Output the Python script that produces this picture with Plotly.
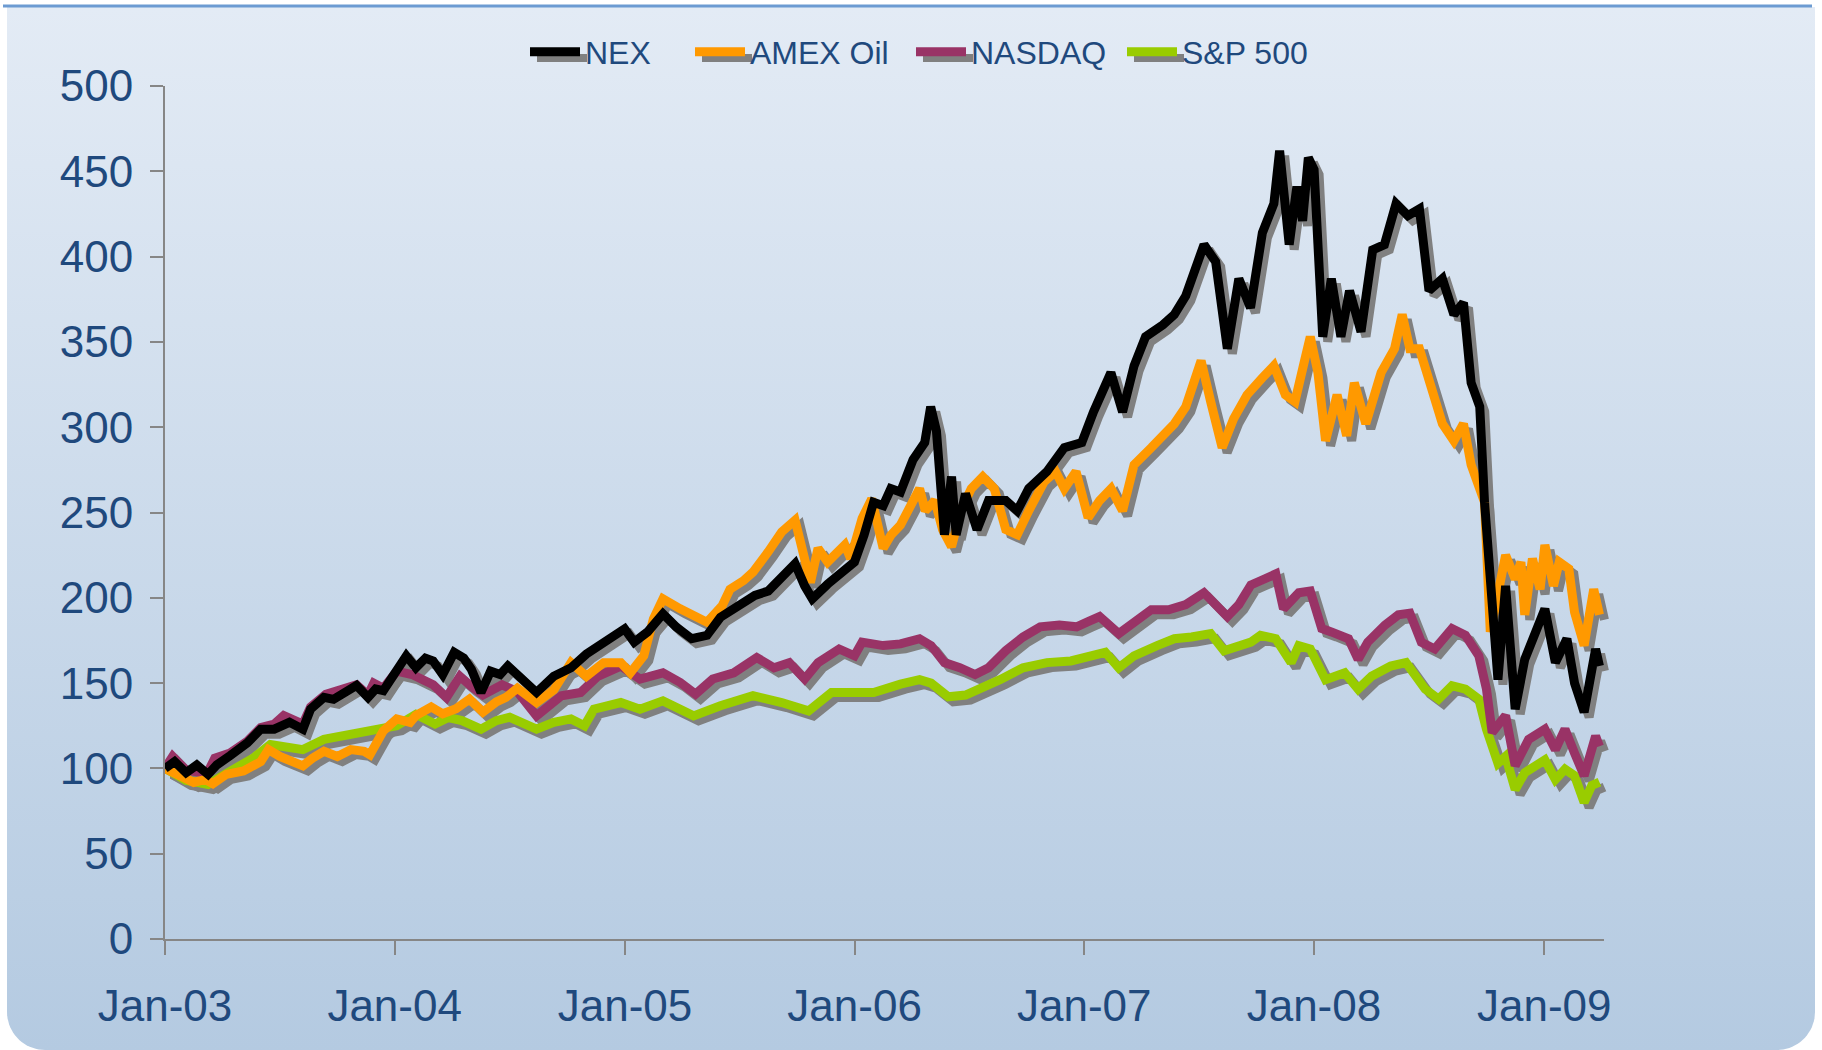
import numpy as np
import pandas as pd
import plotly.graph_objects as go

# ---------------- data ----------------
# x positions are months elapsed since 1 Jan 2003, y values are index levels (Jan-03 = 100)
nex_months = [0, 0.5, 1.1, 1.66, 2.25, 2.7, 3.4, 4.3, 5.0, 5.7,
              6.5, 7.2, 7.6, 8.3, 8.8, 9.3, 10.0, 10.6, 11.0, 11.4,
              12.1, 12.6, 13.1, 13.6, 14.0, 14.5, 15.1, 15.6, 16.0, 16.5,
              17.0, 17.5, 17.9, 18.6, 19.4, 20.3, 21.2, 22.0, 23.1, 24.0,
              24.5, 25.2, 26.0, 26.7, 27.5, 28.3, 29.0, 29.9, 30.8, 31.5,
              32.2, 32.9, 33.4, 33.8, 34.6, 35.3, 36.0, 36.5, 37.0, 37.5,
              37.9, 38.4, 39.06, 39.67, 39.98, 40.28, 40.7, 41.07, 41.31, 41.8,
              42.4, 43.0, 43.9, 44.5, 45.1, 46.05, 46.96, 47.87, 48.48, 49.39,
              50.0, 50.6, 51.2, 52.1, 52.7, 53.3, 54.25, 54.86, 55.47, 56.07,
              56.68, 57.3, 57.9, 58.2, 58.7, 59.1, 59.4, 59.7, 60.0, 60.45,
              60.9, 61.4, 61.85, 62.45, 63.06, 63.67, 64.28, 64.9, 65.5, 66.0,
              66.7, 67.3, 67.8, 68.2, 68.65, 68.9, 69.26, 69.6, 70.0, 70.5,
              71.0, 71.5, 72.05, 72.6, 73.2, 73.6, 74.1, 74.7, 74.9]
nex_values = [100, 104, 97.5, 102, 96.5, 102, 107.5, 115, 123, 123,
              127, 123, 134.7, 141.6, 140.5, 144.5, 148.6, 141.6, 146.6, 145.6,
              158, 166, 159, 164.6, 163, 155, 168, 164.6, 158, 144.5,
              157, 155, 160, 152, 144.5, 154, 159, 167, 175, 181.8,
              174, 180, 190.6, 182.8, 176, 178, 188.6, 194.5, 201.4, 204,
              213, 220, 207, 199.4, 208, 215, 221, 236.7, 256, 254,
              264, 262, 281, 291, 312, 298, 237, 271, 237, 261,
              240, 257, 257, 251, 264, 274, 288, 291, 309, 332,
              309, 336, 353, 360, 366, 377, 407, 397, 346, 387,
              370, 414, 431, 462, 407, 441, 421, 458, 451, 353,
              387, 353, 380, 356, 404, 407, 431, 424, 428, 380,
              387, 366, 373, 326, 312, 256, 193.5, 152, 207, 134.7,
              164, 178, 193.5, 162, 176, 150, 133, 170, 160]

amex_months = [0, 1.0, 1.5, 2.1, 2.5, 3.2, 4.1, 5.0, 5.4, 6.0,
               6.7, 7.2, 7.7, 8.3, 9.0, 9.7, 10.4, 10.7, 11.4, 12.1,
               12.8, 13.1, 13.9, 14.5, 15.2, 15.9, 16.6, 17.3, 17.8, 18.4,
               19.4, 20.3, 21.2, 22.0, 22.9, 23.8, 24.3, 25.0, 25.5, 26.0,
               26.9, 27.6, 28.3, 29.1, 29.5, 30.2, 30.7, 31.5, 32.2, 32.9,
               33.2, 33.7, 34.1, 34.6, 35.5, 35.8, 36.4, 36.9, 37.5, 37.9,
               38.4, 39.4, 39.7, 40.2, 40.6, 41.07, 41.55, 42.1, 42.7, 43.3,
               43.9, 44.5, 45.1, 45.9, 46.5, 46.96, 47.57, 48.2, 48.8, 49.4,
               50.0, 50.6, 51.5, 52.1, 52.7, 53.3, 54.1, 54.6, 55.2, 55.8,
               56.5, 57.3, 57.9, 58.5, 59.0, 59.5, 59.8, 60.2, 60.6, 61.2,
               61.7, 62.1, 62.7, 63.5, 64.2, 64.6, 65.0, 65.5, 66.0, 66.7,
               67.3, 67.8, 68.2, 68.65, 68.9, 69.2, 70.0, 70.5, 70.8, 71.0,
               71.4, 71.8, 72.05, 72.5, 72.8, 73.3, 73.6, 74.1, 74.6, 74.9]
amex_values = [100, 94.5, 91.8, 93.5, 91, 96.5, 98.5, 104, 111, 107,
               104, 101.5, 106, 110, 107, 111, 110, 108, 122, 129,
               127, 131, 136, 132, 135, 140.6, 133, 139, 141.6, 147,
               138.6, 146, 162, 154, 162, 162, 156, 166, 187.6, 199.4,
               193.5, 189.6, 185.7, 195.5, 205, 210, 215, 227, 238.6, 245.5,
               233, 209, 229, 221, 231, 223, 246.5, 258, 229, 236.7,
               242.6, 264, 251, 257, 240, 230, 251, 264, 271, 264,
               240, 237, 251, 268, 274, 264, 274, 247, 257, 264,
               251, 278, 288, 295, 302, 312, 339, 315, 288, 305,
               319, 329, 336, 319, 315, 339, 353, 332, 292, 319,
               295, 326, 302, 332, 346, 366, 346, 346, 326, 302,
               292, 302, 278, 264, 256, 180, 225, 211, 221, 190,
               223, 205, 231, 207, 221, 217, 191.6, 172, 205, 190]

nasdaq_months = [0, 0.4, 1.1, 2.2, 2.6, 3.4, 4.3, 5.0, 5.7, 6.2,
                 7.2, 7.6, 8.4, 9.3, 10.0, 10.6, 10.9, 11.4, 12.1, 12.9,
                 14.0, 14.7, 15.4, 16.0, 16.6, 17.6, 18.4, 19.4, 20.7, 21.7,
                 22.6, 23.8, 24.8, 26.0, 26.9, 27.7, 28.6, 29.7, 30.9, 31.8,
                 32.6, 33.4, 34.1, 35.2, 36.0, 36.4, 37.5, 38.4, 39.4, 40.0,
                 40.7, 41.5, 42.3, 43.0, 43.9, 44.8, 45.7, 46.7, 47.6, 48.2,
                 48.8, 49.8, 50.6, 51.5, 52.4, 53.3, 54.25, 54.86, 55.47, 56.07,
                 56.7, 57.2, 58.0, 58.4, 59.2, 59.8, 60.4, 60.9, 61.8, 62.3,
                 62.8, 63.7, 64.4, 65.0, 65.6, 66.3, 67.2, 67.9, 68.6, 69.0,
                 69.3, 70.0, 70.5, 71.2, 72.05, 72.6, 73.1, 73.6, 74.1, 74.7,
                 74.9]
nasdaq_values = [100, 107, 99, 97, 106, 109, 116, 124, 126, 131,
                 126, 136, 143.5, 146, 149, 143, 150, 147, 157, 155,
                 149, 141.6, 154, 148, 143, 149, 145, 130.8, 142.6, 144.5,
                 154, 160, 152.4, 156, 150.4, 143.5, 152.4, 156, 165, 159,
                 162, 152.4, 162, 170, 166, 174, 172, 173, 176, 172,
                 162, 159, 155, 159, 169, 177, 183, 184, 183, 186,
                 189, 179, 186, 193, 193, 196, 203, 196, 189, 196,
                 207.5, 210, 214, 193.5, 203, 204, 182, 180, 176, 164,
                 174, 184, 190, 191, 174, 170, 182, 178, 166, 146.5,
                 121, 131, 101.6, 117, 123, 111, 123, 109, 95.7, 119,
                 113]

sp500_months = [0, 0.5, 1.1, 1.6, 2.25, 3.2, 4.6, 5.5, 6.5, 7.2,
                8.3, 9.3, 10.4, 11.2, 12.1, 13.1, 14.1, 14.8, 15.5, 16.5,
                17.3, 18.0, 18.6, 19.4, 20.3, 21.2, 21.9, 22.4, 23.8, 24.8,
                26.0, 27.6, 29.0, 30.7, 32.2, 33.6, 34.8, 36.0, 37.0, 38.4,
                39.4, 40.0, 40.9, 41.8, 42.7, 43.6, 44.8, 46.05, 47.3, 48.2,
                49.1, 49.8, 50.6, 51.8, 52.7, 53.6, 54.6, 55.3, 56.07, 56.7,
                57.2, 58.0, 58.8, 59.2, 59.8, 60.6, 61.6, 62.3, 63.0, 64.0,
                64.8, 65.8, 66.5, 67.2, 67.9, 68.6, 69.0, 69.6, 70.0, 70.5,
                71.0, 72.05, 72.6, 73.1, 73.6, 74.1, 74.5, 74.9]
sp500_values = [100, 97, 93, 92, 90.6, 97, 106, 114, 112, 111,
                117, 119, 122, 123, 125, 131.7, 126, 129.8, 128, 123,
                128, 130, 127, 123, 127, 129, 125, 134.7, 138.6, 134.7,
                139.6, 130.8, 136.7, 142.6, 138.6, 133.7, 144.5, 144.5, 144.5, 149.4,
                152, 150, 142, 143, 147, 152, 159, 162, 163, 166,
                168, 159, 166, 172, 176, 177, 179, 169, 172, 174,
                178, 176, 162, 172, 170, 152, 156, 146.5, 154, 160,
                162, 146.5, 140.6, 148.5, 146.5, 140.6, 123, 103, 107, 87.6,
                97.5, 105, 93.5, 99.5, 95.7, 80, 90, 92]

series_names = ["NEX", "AMEX Oil", "NASDAQ", "S&P 500"]
series_colors = ["#000000", "#FF9900", "#993366", "#99CC00"]
y_ticks = [0, 50, 100, 150, 200, 250, 300, 350, 400, 450, 500]
x_start, x_end = "2003-01-01", "2009-04-06"


def to_dates(months):
    base = pd.Timestamp("2003-01-01")
    return [base + pd.Timedelta(days=m * 30.4375) for m in months]


series = [
    (nex_months, nex_values),
    (amex_months, amex_values),
    (nasdaq_months, nasdaq_values),
    (sp500_months, sp500_values),
]

# ---------------- layout geometry ----------------
W, H = 1822, 1050
PL, PR, PT, PB = 165, 1604, 86, 939   # plot box in page pixels
DX, DY = 5, 5                          # shadow offset
LW = 9
TEXT = "#1F497D"
AX = "#868686"
SHADOW = "#808080"
FONT = "Liberation Sans, Arial, sans-serif"

# legend geometry (page pixels): left edge of each legend entry
LEG_XS = [525, 690, 911, 1122]
LEG_Y = 52
ITEMW = 50
legend_ids = ["legend", "legend2", "legend3", "legend4"]

fig = go.Figure()

# background rounded panel with vertical gradient (page-pixel axes x/y)
r = 38
left, right, top, bottom = 7, 1815, H - 7, 0
t = np.linspace(0, np.pi / 2, 20)
bx = [left, right]
by = [top, top]
bx += list(right - r + r * np.cos(t)); by += list(bottom + r - r * np.sin(t))
bx += list(left + r - r * np.sin(t)); by += list(bottom + r - r * np.cos(t))
bx.append(left); by.append(top)
fig.add_trace(go.Scatter(
    x=bx, y=by, mode="lines", fill="toself", line=dict(width=0),
    fillgradient=dict(type="vertical", start=0, stop=top,
                      colorscale=[[0, "#B4CAE1"], [1, "#E3EBF5"]]),
    xaxis="x", yaxis="y", showlegend=False, hoverinfo="skip"))

# shadows (x2/y2, shifted domain)
order = [3, 2, 1, 0]
for i in order:
    m, v = series[i]
    fig.add_trace(go.Scatter(
        x=to_dates(m), y=v, mode="lines",
        line=dict(color=SHADOW, width=LW),
        xaxis="x2", yaxis="y2", showlegend=False, hoverinfo="skip"))

# main lines (x3/y3)
for i in order:
    m, v = series[i]
    fig.add_trace(go.Scatter(
        x=to_dates(m), y=v, mode="lines", name=series_names[i],
        line=dict(color=series_colors[i], width=LW),
        legend=legend_ids[i], xaxis="x3", yaxis="y3"))

xdom = [PL / W, PR / W]
ydom = [(H - PB) / H, (H - PT) / H]
xdom2 = [(PL + DX) / W, (PR + DX) / W]
ydom2 = [(H - PB - DY) / H, (H - PT - DY) / H]

hidden = dict(visible=False, fixedrange=True, showgrid=False, zeroline=False)

# shadow strokes under the legend symbols
shapes = [dict(type="line", xref="paper", yref="paper",
               x0=3 / W, x1=1812 / W, y0=1 - 6 / H, y1=1 - 6 / H,
               line=dict(color="#6C9BD2", width=3))]
for lx in LEG_XS:
    sx0 = lx + 7 + 5
    shapes.append(dict(type="line", xref="paper", yref="paper", layer="above",
                       x0=sx0 / W, x1=(sx0 + ITEMW) / W,
                       y0=1 - (LEG_Y + 6) / H, y1=1 - (LEG_Y + 6) / H,
                       line=dict(color=SHADOW, width=8)))

legends = {}
for lid, lx in zip(legend_ids, LEG_XS):
    legends[lid] = dict(orientation="h", xref="container", yref="container",
                        x=lx / W, xanchor="left", y=1 - LEG_Y / H, yanchor="middle",
                        font=dict(size=32, color=TEXT, family=FONT),
                        bgcolor="rgba(0,0,0,0)", itemwidth=ITEMW)

fig.update_layout(
    width=W, height=H,
    margin=dict(l=0, r=0, t=0, b=0, autoexpand=False),
    paper_bgcolor="white", plot_bgcolor="rgba(0,0,0,0)",
    font=dict(family=FONT, color=TEXT),
    xaxis=dict(domain=[0, 1], range=[0, W], anchor="y", **hidden),
    yaxis=dict(domain=[0, 1], range=[0, H], anchor="x", **hidden),
    xaxis2=dict(domain=xdom2, range=[x_start, x_end], type="date", anchor="y2", **hidden),
    yaxis2=dict(domain=ydom2, range=[0, 500], anchor="x2", **hidden),
    xaxis3=dict(domain=xdom, range=[x_start, x_end], type="date", anchor="y3",
                tickformat="%b-%y", dtick="M12", tick0="2003-01-01",
                ticks="outside", ticklen=14, tickwidth=2, tickcolor=AX,
                showline=True, linecolor=AX, linewidth=2,
                showgrid=False, zeroline=False,
                tickfont=dict(size=44, color=TEXT, family=FONT),
                ticklabelstandoff=13),
    yaxis3=dict(domain=ydom, range=[0, 500], anchor="x3",
                tickmode="array", tickvals=y_ticks,
                ticks="outside", ticklen=13, tickwidth=2, tickcolor=AX,
                showline=True, linecolor=AX, linewidth=2,
                showgrid=False, zeroline=False,
                tickfont=dict(size=44, color=TEXT, family=FONT),
                ticklabelstandoff=8),
    shapes=shapes,
    showlegend=True,
    **legends,
)

fig.write_html("out.html", config={"displayModeBar": False},
               post_script="document.body.style.margin='0';document.body.style.overflow='hidden';")
